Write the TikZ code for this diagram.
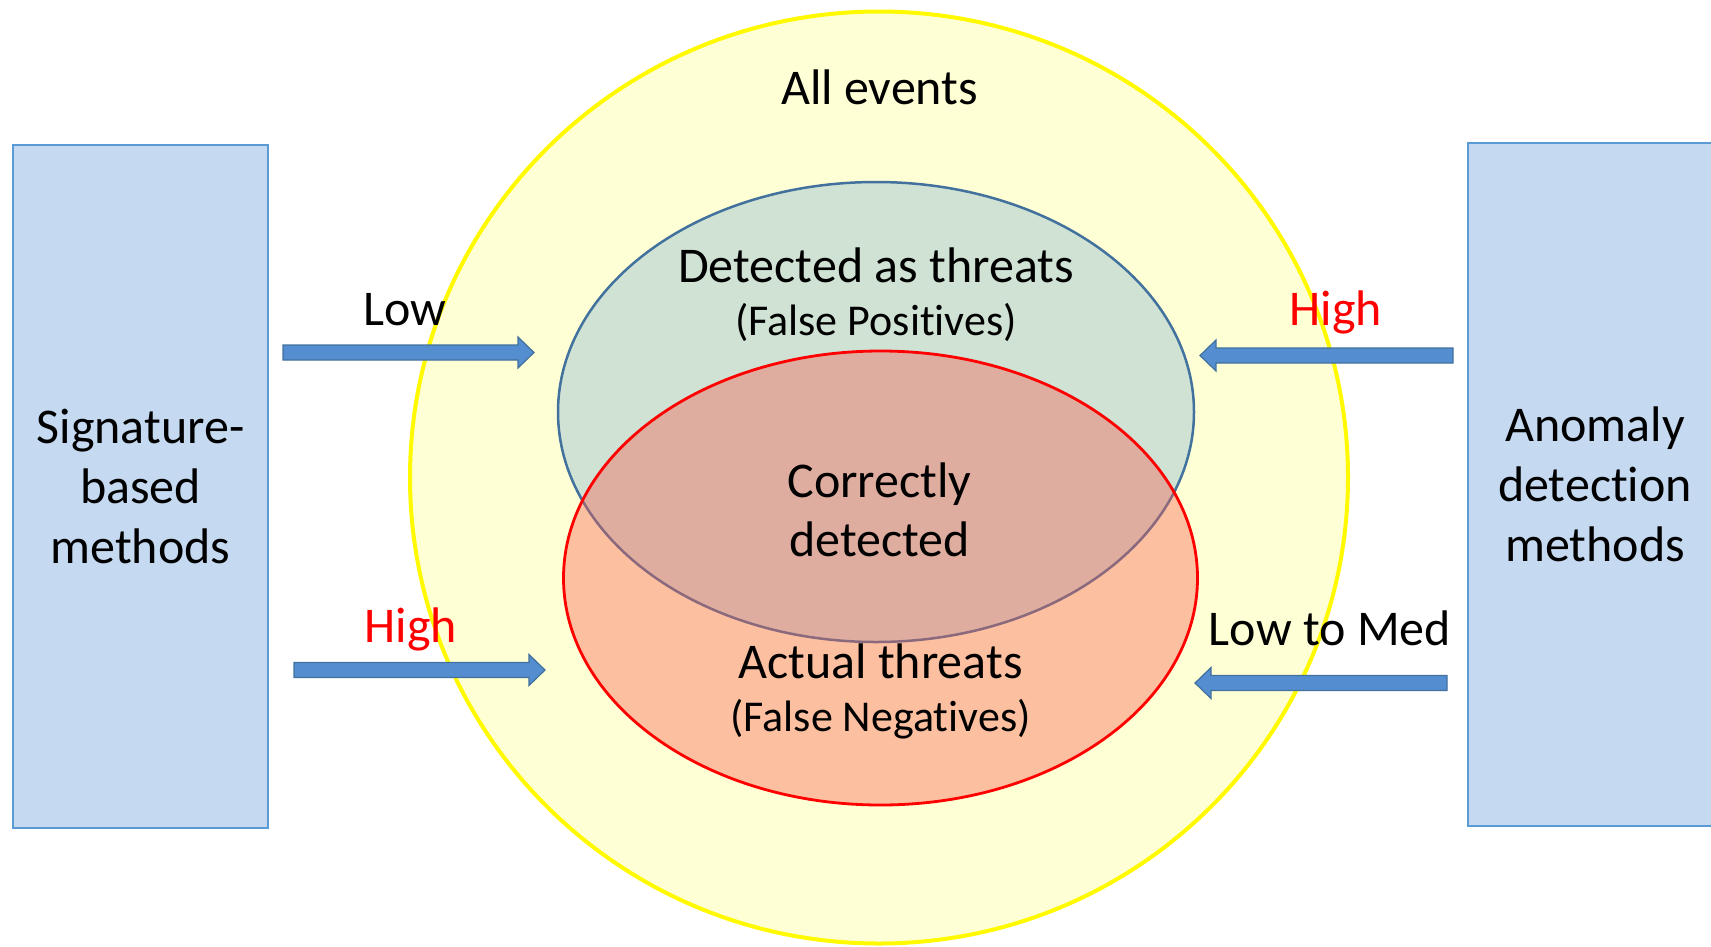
\documentclass[tikz,border=0pt]{standalone}
\usepackage{fontspec}
\setmainfont{Carlito}[Ligatures=NoCommon]
\usetikzlibrary{calc}
\definecolor{yfill}{RGB}{255,255,214}
\definecolor{yline}{RGB}{255,250,0}
\definecolor{gfill}{RGB}{207,226,212}
\definecolor{bline}{RGB}{65,113,156}
\definecolor{rfill}{RGB}{248,95,80}
\definecolor{rline}{RGB}{255,0,0}
\definecolor{boxfill}{RGB}{197,217,240}
\definecolor{boxline}{RGB}{91,155,213}
\definecolor{arrfill}{RGB}{84,141,208}
\definecolor{arredge}{RGB}{65,113,156}
\begin{document}
\begin{tikzpicture}[x=1pt,y=-1pt,
  lbl/.style={font=\fontsize{50}{60}\selectfont, inner sep=0pt, anchor=base},
  sublbl/.style={font=\fontsize{44}{52}\selectfont, inner sep=0pt, anchor=base},
  methodbox/.style={draw=boxline, fill=boxfill, line width=2.5pt, inner sep=0pt,
    align=center, font=\fontsize{50}{60}\selectfont},
  barrow/.style={fill=arrfill, draw=arredge, line width=1.2pt, line join=miter}]
\useasboundingbox (0,0) rectangle (1711,946);
\clip (0,0) rectangle (1711,946);

% big circle
\fill[yfill] (879,477.5) ellipse [x radius=469pt, y radius=466pt];
\draw[yline, line width=4pt] (879,477.5) ellipse [x radius=469pt, y radius=466pt];

% detected ellipse
\draw[fill=gfill, draw=bline, line width=2.5pt] (876,412) ellipse [x radius=318pt, y radius=230pt];
% actual threats ellipse
\fill[rfill, fill opacity=0.4] (880.5,578) ellipse [x radius=317pt, y radius=227pt];
\draw[rline, line width=2.8pt] (880.5,578) ellipse [x radius=317pt, y radius=227pt];

% boxes
\node[methodbox, minimum width=255pt, minimum height=683pt] (sig) at (140.5,486.5)
  {Signature-\\based\\methods};
\node[methodbox, minimum width=254pt, minimum height=683pt] (ano) at (1595,484.5)
  {Anomaly\\detection\\methods};

% texts
\node[lbl] (all) at (879.5,104.5) {All events};
\node[lbl] (det) at (876,282) {Detected as threats};
\node[sublbl] (fp) at (876,335) {(False Positives)};
\node[lbl] (corr) at (879.5,497) {Correctly};
\node[lbl] (corr2) at (879.5,556) {detected};
\node[lbl] (act) at (880.5,678) {Actual threats};
\node[sublbl] (fn) at (880.5,731) {(False Negatives)};

\node[lbl] (low1) at (404.5,325) {Low};
\node[lbl, text=rline] (high1) at (1336,325) {High};
\node[lbl, text=rline] (high2) at (411,642) {High};
\node[lbl] (lowmed) at (1330,645) {Low to Med};

% arrows
\coordinate (a1t) at (283,352.5); \coordinate (a1h) at (534,352.5);
\coordinate (a2t) at (1453,355.5); \coordinate (a2h) at (1200,355.5);
\coordinate (a3t) at (294,670); \coordinate (a3h) at (545,670);
\coordinate (a4t) at (1447,683); \coordinate (a4h) at (1195,683);

\draw[barrow] ($(a1t)+(0,-7.5)$) -- ($(a1h)+(-16,-7.5)$) -- ($(a1h)+(-16,-15.5)$) -- (a1h)
  -- ($(a1h)+(-16,15.5)$) -- ($(a1h)+(-16,7.5)$) -- ($(a1t)+(0,7.5)$) -- cycle;
\draw[barrow] ($(a3t)+(0,-7.5)$) -- ($(a3h)+(-16,-7.5)$) -- ($(a3h)+(-16,-15.5)$) -- (a3h)
  -- ($(a3h)+(-16,15.5)$) -- ($(a3h)+(-16,7.5)$) -- ($(a3t)+(0,7.5)$) -- cycle;
\draw[barrow] ($(a2t)+(0,-7.5)$) -- ($(a2h)+(16,-7.5)$) -- ($(a2h)+(16,-15.5)$) -- (a2h)
  -- ($(a2h)+(16,15.5)$) -- ($(a2h)+(16,7.5)$) -- ($(a2t)+(0,7.5)$) -- cycle;
\draw[barrow] ($(a4t)+(0,-7.5)$) -- ($(a4h)+(16,-7.5)$) -- ($(a4h)+(16,-15.5)$) -- (a4h)
  -- ($(a4h)+(16,15.5)$) -- ($(a4h)+(16,7.5)$) -- ($(a4t)+(0,7.5)$) -- cycle;
\end{tikzpicture}
\end{document}
